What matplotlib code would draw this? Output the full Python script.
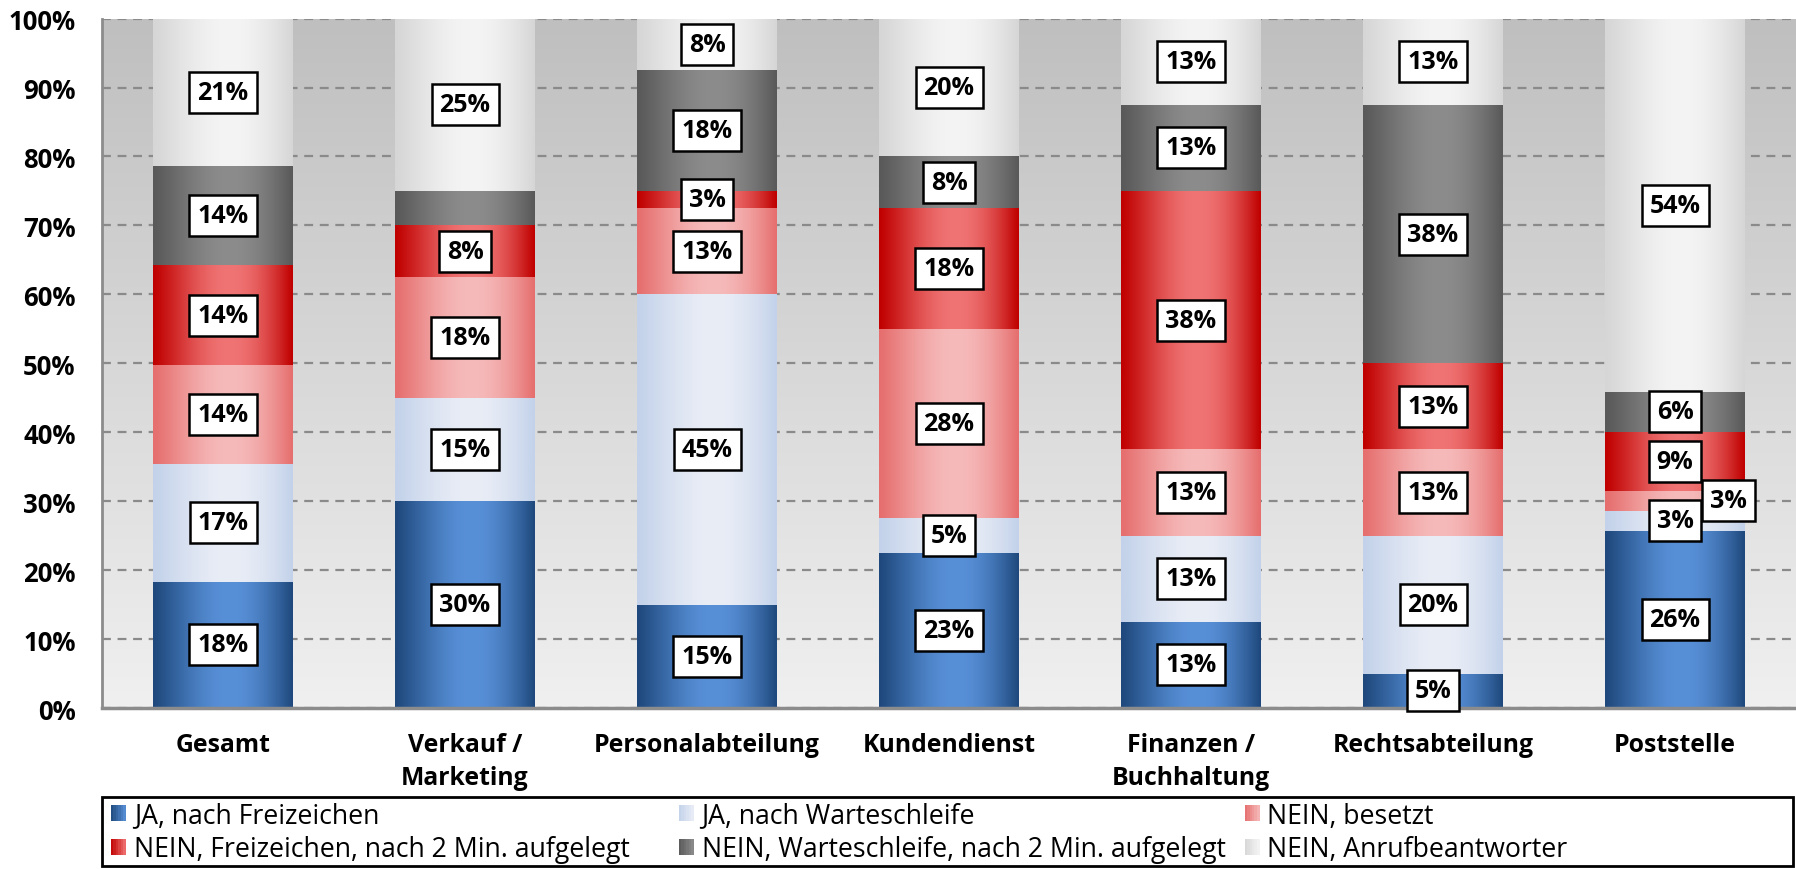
import math
import numpy as np
import matplotlib
matplotlib.use("Agg")
import matplotlib.pyplot as plt
from matplotlib.patches import Rectangle
from matplotlib.legend_handler import HandlerBase
from matplotlib.colors import to_rgb

plt.rcParams['font.family'] = ['Open Sans', 'DejaVu Sans']

# Daten (Anteile in Prozent)
categories = ["Gesamt", "Verkauf /\nMarketing", "Personalabteilung", "Kundendienst",
              "Finanzen /\nBuchhaltung", "Rechtsabteilung", "Poststelle"]

series_names = ["JA, nach Freizeichen",
                "JA, nach Warteschleife",
                "NEIN, besetzt",
                "NEIN, Freizeichen, nach 2 Min. aufgelegt",
                "NEIN, Warteschleife, nach 2 Min. aufgelegt",
                "NEIN, Anrufbeantworter"]

ja_freizeichen        = [18.3, 30.0, 15.0, 22.5, 12.5,  5.0, 25.7]
ja_warteschleife      = [17.1, 15.0, 45.0,  5.0, 12.5, 20.0,  2.9]
nein_besetzt          = [14.4, 17.5, 12.5, 27.5, 12.5, 12.5,  2.9]
nein_freizeichen      = [14.4,  7.5,  2.5, 17.5, 37.5, 12.5,  8.6]
nein_warteschleife    = [14.4,  5.0, 17.5,  7.5, 12.5, 37.5,  5.7]
nein_anrufbeantworter = [21.4, 25.0,  7.5, 20.0, 12.5, 12.5, 54.2]

# Farben: (Rand, Mitte) fuer den Zylinder-Verlauf
colors = [("#1f497d", "#5890d8"),
          ("#c3d2ea", "#e9edf6"),
          ("#e66e6e", "#f6baba"),
          ("#c00000", "#f07474"),
          ("#595959", "#8c8c8c"),
          ("#d6d6d6", "#f4f4f4")]

hidden_labels = {(4, 1)}          # kein Label fuer dieses Segment
label_shift = {(2, 6): 0.22}      # Label seitlich versetzt


def mix(c1, c2, s):
    a = np.array(to_rgb(c1))
    b = np.array(to_rgb(c2))
    return a + (b - a) * s


def grad_row(edge, mid, n=120):
    t = np.linspace(0, 1, n)
    s = np.sin(np.pi * t ** 1.16)
    return np.array([mix(edge, mid, v) for v in s])[None, :, :]


def pct(v):
    return "%d%%" % int(math.floor(v + 0.5 + 1e-9))


class GradHandler(HandlerBase):
    def create_artists(self, legend, orig_handle, xdescent, ydescent,
                       width, height, fontsize, trans):
        edge, mid = orig_handle.grad
        n = 6
        arts = []
        for k in range(n):
            c = mix(edge, mid, (k + 0.5) / n)
            r = Rectangle((-xdescent + k * width / n, -ydescent), width / n + 0.2, height,
                          facecolor=c, edgecolor='none', transform=trans)
            arts.append(r)
        return arts


data = [ja_freizeichen, ja_warteschleife, nein_besetzt,
        nein_freizeichen, nein_warteschleife, nein_anrufbeantworter]

fig = plt.figure(figsize=(17.96, 8.70), dpi=100)
ax = fig.add_axes([0.0568, 0.185, 0.9432, 0.7925])

# Hintergrund mit vertikalem Verlauf
bg = np.array([mix("#bfbfbf", "#f0f0f0", s) for s in np.linspace(0, 1, 200)])[:, None, :]
ax.imshow(bg, extent=[0, 1, 0, 1], transform=ax.transAxes, aspect='auto', zorder=0)

x = np.arange(len(categories))
width = 0.577
bottom = np.zeros(len(categories))

for i, vals in enumerate(data):
    vals = np.array(vals)
    bars = ax.bar(x, vals, width, bottom=bottom, color='none', edgecolor='none', zorder=2)
    img = grad_row(*colors[i])
    for j, rect in enumerate(bars):
        x0, y0 = rect.get_xy()
        w, h = rect.get_width(), rect.get_height()
        ax.imshow(img, extent=[x0, x0 + w, y0, y0 + h], aspect='auto',
                  interpolation='bilinear', zorder=2)
        if (i, j) in hidden_labels:
            continue
        ax.text(x[j] + label_shift.get((i, j), 0.0), y0 + h / 2, pct(vals[j]),
                ha='center', va='center', fontsize=18, fontweight='bold', zorder=5,
                bbox=dict(boxstyle='square,pad=0.32', fc='white', ec='black', lw=1.8))
    bottom += vals

ax.set_xlim(-0.5, len(categories) - 0.5)
ax.set_ylim(0, 100)
ax.set_yticks(np.arange(0, 101, 10))
ax.set_yticklabels(["%d%%" % v for v in range(0, 101, 10)], fontsize=18.5, fontweight='bold')
ax.set_xticks(x)
ax.set_xticklabels(categories, fontsize=17.8, fontweight='bold', linespacing=1.45)
ax.tick_params(axis='both', length=0)
ax.tick_params(axis='y', pad=19)
ax.tick_params(axis='x', pad=17)

ax.yaxis.grid(True, color='#8a8a8a', linestyle=(0, (4, 3)), linewidth=1.6)
ax.set_axisbelow(True)
for side in ['top', 'right']:
    ax.spines[side].set_visible(False)
ax.spines['left'].set_color('#8c8c8c')
ax.spines['left'].set_linewidth(2)
ax.spines['bottom'].set_color('#8c8c8c')
ax.spines['bottom'].set_linewidth(2.5)

# Legende: drei Spalten, je zwei Eintraege, mit gemeinsamem Rahmen
handles = []
for c in colors:
    p = Rectangle((0, 0), 1, 1)
    p.grad = c
    handles.append(p)

col_x = [0.0618, 0.378, 0.693]
for k in range(3):
    idx = [k, k + 3]
    fig.legend([handles[i] for i in idx], [series_names[i] for i in idx],
               loc='center left', bbox_to_anchor=(col_x[k], 0.042),
               frameon=False, fontsize=19.2, handlelength=0.55, handleheight=0.55,
               handletextpad=0.3, labelspacing=0.22, borderpad=0, borderaxespad=0,
               handler_map={Rectangle: GradHandler()})

fig.patches.append(Rectangle((0.0568, 0.004), 0.9415, 0.079, transform=fig.transFigure,
                             fill=False, edgecolor='black', linewidth=2))

fig.savefig('out.png', dpi=100)
